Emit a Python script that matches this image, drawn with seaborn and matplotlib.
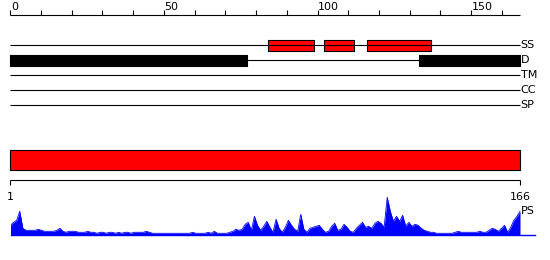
import matplotlib
matplotlib.use("Agg")
import matplotlib.pyplot as plt
import seaborn as sns
import numpy as np
import pandas as pd

# ---------------- data ----------------
seq_length = 166
ruler_major = [0, 50, 100, 150]
ruler_minor_step = 10
track_names = ["SS", "D", "TM", "CC", "SP"]
ss_segments = [(84, 99), (102, 112), (116, 137)]       # secondary structure (red)
disorder_segments = [(0, 77), (133, 166)]              # disorder (black)
domain_segments = [(0, 166)]                           # big red bar
bottom_tick_labels = ["1", "166"]
ps_values = [10, 13, 15, 24, 7, 5, 5, 5, 5, 6,
             5, 4, 4, 4, 4, 5, 7, 4, 3, 4,
             4, 4, 3, 3, 3, 4, 3, 3, 2, 3,
             3, 2, 3, 3, 2, 3, 2, 3, 3, 2,
             3, 3, 3, 3, 4, 3, 2, 2, 2, 2,
             2, 2, 2, 2, 2, 2, 2, 2, 2, 3,
             2, 2, 2, 2, 3, 2, 4, 2, 2, 2,
             2, 3, 4, 6, 5, 6, 11, 13, 5, 19,
             10, 5, 9, 14, 8, 3, 16, 7, 3, 8,
             15, 10, 6, 4, 21, 6, 3, 7, 8, 9,
             10, 6, 3, 4, 9, 12, 5, 6, 11, 8,
             4, 3, 7, 10, 13, 8, 9, 7, 12, 14,
             12, 8, 38, 24, 14, 19, 14, 20, 9, 13,
             9, 11, 10, 7, 5, 4, 3, 3, 2, 2,
             2, 2, 2, 2, 3, 4, 3, 3, 3, 3,
             3, 3, 4, 3, 3, 5, 7, 6, 4, 7,
             10, 3, 8, 15, 19, 24]

# ---------------- style ----------------
sns.set_style("white")
plt.rcParams["font.family"] = ["DejaVu Sans"]

W, H = 550, 260
fig = plt.figure(figsize=(W / 100, H / 100), dpi=100)

# main axes: x in sequence units (0 at px 10.3, 166 at px 520.3), y in layout units from top
x0_px, x1_px = 10.3, 520.3
ppu = (x1_px - x0_px) / seq_length
ax = fig.add_axes([0, 0, 1, 1])
ax.set_xlim(-x0_px / ppu, (W - x0_px) / ppu)
ax.set_ylim(H, 0)
ax.axis("off")

lw = 0.8
fs = 8

# top ruler
ruler_y, tick_top = 15, 10
ax.hlines(ruler_y, 0, seq_length, color="black", lw=lw)
ax.vlines(np.arange(0, seq_length, ruler_minor_step), tick_top, ruler_y, color="black", lw=lw)
for m in ruler_major:
    ax.text(m + 0.2, ruler_y - 4.5, str(m), fontsize=fs, ha="left", va="baseline",
            color="black")

# tracks
track_y = {name: 45 + 15 * i for i, name in enumerate(track_names)}
for name, y in track_y.items():
    ax.hlines(y + 0.3, 0, seq_length, color="black", lw=lw)
    ax.text(seq_length + 0.1, y + 0.3, name, fontsize=fs, ha="left", va="center", color="black")

box_h = 10.7
ax.broken_barh([(s, e - s) for s, e in ss_segments], (track_y["SS"] - 5, box_h),
               facecolors="#ff0000", edgecolors="black", linewidth=lw)
ax.broken_barh([(s, e - s) for s, e in disorder_segments], (track_y["D"] - 5, box_h),
               facecolors="black", edgecolors="black", linewidth=lw)

# big domain bar
ax.broken_barh([(s, e - s) for s, e in domain_segments], (150.3, 20),
               facecolors="#ff0000", edgecolors="black", linewidth=lw)

# bottom ruler
bot_y = 180.3
ax.hlines(bot_y, 0, seq_length, color="black", lw=lw)
ax.vlines([0, seq_length], bot_y, bot_y + 4.5, color="black", lw=lw)
for xpos, lab in zip([0, seq_length], bottom_tick_labels):
    ax.text(xpos, 199.5, lab, fontsize=fs, ha="center", va="baseline", color="black")
ax.text(seq_length + 0.2, 214.5, "PS", fontsize=fs, ha="left", va="baseline", color="black")

# PS profile axes: residue 1 at px 10.5, residue 166 at px 520, baseline at px 235.3
r_ppu = (520 - 10.5) / (seq_length - 1)
ps_right_px = 535.5
base_px = 235.3
ps_h_px = 45
axp = fig.add_axes([10.5 / W, (H - base_px) / H, (ps_right_px - 10.5) / W, ps_h_px / H])
axp.set_xlim(1, 1 + (ps_right_px - 10.5) / r_ppu)
axp.set_ylim(0, ps_h_px)
axp.patch.set_alpha(0)
for sp in ["top", "left", "right"]:
    axp.spines[sp].set_visible(False)
axp.spines["bottom"].set_color("#0000ff")
axp.spines["bottom"].set_linewidth(1.0)
axp.set_xticks([])
axp.set_yticks([])

df = pd.DataFrame({"residue": np.arange(1, seq_length + 1), "ps": ps_values})
axp.fill_between(df["residue"], 0, df["ps"], color="#0000ff", linewidth=0)
sns.lineplot(data=df, x="residue", y="ps", ax=axp, color="#0000ff", linewidth=0.6)
axp.set_xlabel("")
axp.set_ylabel("")

fig.savefig("out.png", dpi=100)
